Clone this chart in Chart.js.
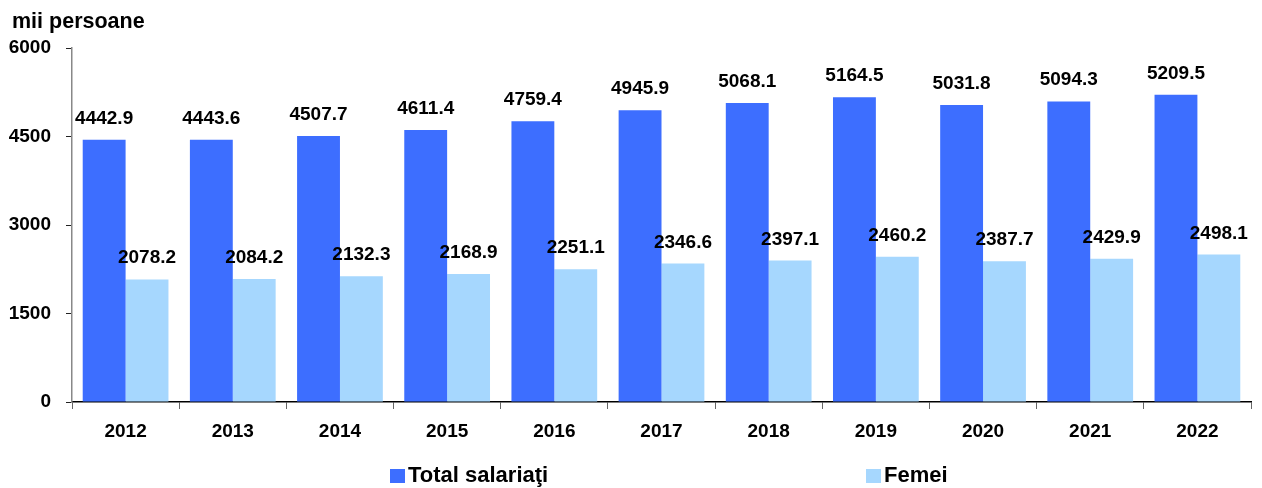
<!DOCTYPE html>
<html>
<head>
<meta charset="utf-8">
<script src="https://cdn.jsdelivr.net/npm/chart.js@4"></script>
<style>
  html, body { margin: 0; padding: 0; background: #fff; }
  #wrap { width: 1262px; height: 488px; }
</style>
</head>
<body>
<div id="wrap"><canvas id="salChart" width="1262" height="488"></canvas></div>
<script>
// data
const years = ["2012", "2013", "2014", "2015", "2016", "2017", "2018", "2019", "2020", "2021", "2022"];
const totalSalariati = [4442.9, 4443.6, 4507.7, 4611.4, 4759.4, 4945.9, 5068.1, 5164.5, 5031.8, 5094.3, 5209.5];
const femei = [2078.2, 2084.2, 2132.3, 2168.9, 2251.1, 2346.6, 2397.1, 2460.2, 2387.7, 2429.9, 2498.1];
const seriesNames = ["Total salariaţi", "Femei"];
const yTicks = [0, 1500, 3000, 4500, 6000];
const unitLabel = "mii persoane";

const FONT = "'Liberation Sans', Arial, sans-serif";
const BLUE = "#3d6eff";
const LIGHT = "#a6d7fe";

// value labels above bars, title and legend drawn on canvas
const extrasPlugin = {
    id: "extras",
    afterDatasetsDraw(chart) {
        const ctx = chart.ctx;
        ctx.save();
        ctx.font = "bold 19px " + FONT;
        ctx.fillStyle = "#000";
        ctx.textAlign = "center";
        ctx.textBaseline = "alphabetic";
        chart.data.datasets.forEach((ds, i) => {
            chart.getDatasetMeta(i).data.forEach((bar, j) => {
                ctx.fillText(ds.data[j].toFixed(1), bar.x, bar.y - 16);
            });
        });
        ctx.restore();
    },
    afterDraw(chart) {
        const ctx = chart.ctx;
        ctx.save();
        ctx.fillStyle = "#000";
        ctx.textAlign = "left";
        ctx.textBaseline = "alphabetic";
        ctx.font = "bold 21.5px " + FONT;
        ctx.fillText(unitLabel, 12, 28);

        // legend
        const legendX = [390, 866];
        ctx.font = "bold 22px " + FONT;
        chart.data.datasets.forEach((ds, i) => {
            ctx.fillStyle = ds.backgroundColor;
            ctx.fillRect(legendX[i], 469, 15, 14);
            ctx.fillStyle = "#000";
            ctx.fillText(ds.label, legendX[i] + 18, 482);
        });
        ctx.restore();
    }
};

new Chart(document.getElementById("salChart"), {
    type: "bar",
    data: {
        labels: years,
        datasets: [
            { label: seriesNames[0], data: totalSalariati, backgroundColor: BLUE },
            { label: seriesNames[1], data: femei, backgroundColor: LIGHT }
        ]
    },
    options: {
        responsive: false,
        animation: false,
        layout: { padding: { top: 48, right: 11, left: 0, bottom: 0 } },
        datasets: { bar: { categoryPercentage: 0.8, barPercentage: 1.0 } },
        plugins: {
            legend: { display: false },
            tooltip: { enabled: false }
        },
        scales: {
            x: {
                afterFit: (scale) => { scale.height = 86; },
                grid: {
                    offset: true,
                    drawOnChartArea: false,
                    drawTicks: true,
                    tickLength: 7,
                    color: "#666"
                },
                border: { color: "#000", width: 1.5 },
                ticks: {
                    color: "#000",
                    padding: 11,
                    font: { family: FONT, size: 19, weight: "bold" }
                }
            },
            y: {
                min: 0,
                max: 6000,
                afterFit: (scale) => { scale.width = 72; },
                afterBuildTicks: (scale) => { scale.ticks = yTicks.map(v => ({ value: v })); },
                grid: {
                    drawOnChartArea: false,
                    drawTicks: true,
                    tickLength: 6,
                    color: "#222"
                },
                border: { color: "#888", width: 1.5 },
                ticks: {
                    color: "#000",
                    padding: 15,
                    callback: (v) => String(v),
                    font: { family: FONT, size: 19, weight: "bold" }
                }
            }
        }
    },
    plugins: [extrasPlugin]
});
</script>
</body>
</html>
